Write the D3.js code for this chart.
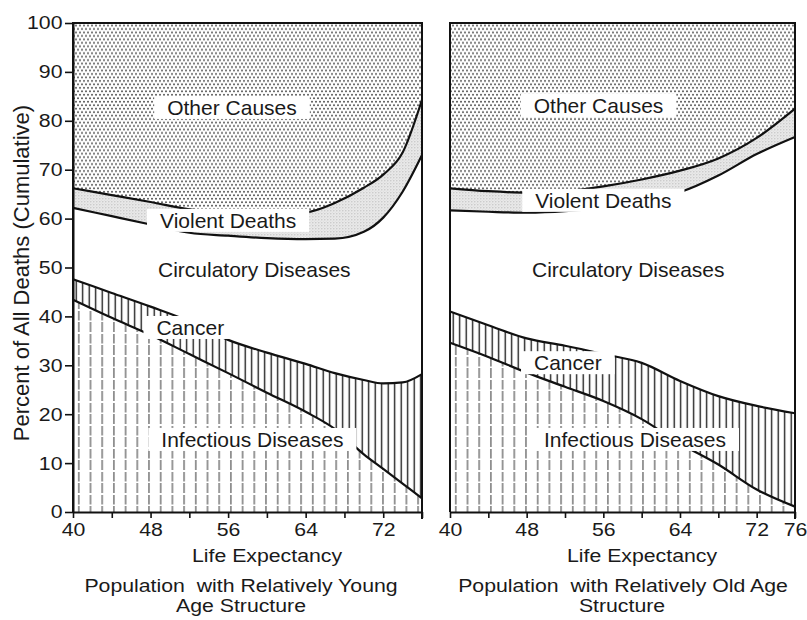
<!DOCTYPE html>
<html><head><meta charset="utf-8">
<script src="https://cdn.jsdelivr.net/npm/d3@7"></script>
<style>
html,body{margin:0;padding:0;background:#fff;}
text{font-family:"Liberation Sans",Arial,Helvetica,sans-serif;fill:#1a1a1a;}
</style></head>
<body>
<svg id="chart" width="807" height="620"></svg>
<script>
// ---------- DATA ----------
const yTicks = [0,10,20,30,40,50,60,70,80,90,100];
const xTicks = [40,44,48,52,56,60,64,68,72,76];
const youngXLabels = [40,48,56,64,72];
const oldXLabels = [40,48,56,64,72,76];

// Population with relatively young age structure (cumulative boundaries, %)
const youngYears       = [40,  44,  48,  52,  56,  60,  64,  67,  70,  72,  74,  76];
const youngInfectious  = [43.4,39.7,36.2,32.3,28.4,24.4,20.5,17.0,11.8,8.8, 5.8, 2.8];
const youngCancer      = [47.6,44.8,42.0,39.0,35.2,32.6,30.3,28.4,27.0,26.3,26.5,28.2];
const youngCirculatory = [62.2,60.5,58.8,57.1,56.5,56.0,55.8,55.9,57.3,60.2,65.5,73.0];
const youngViolent     = [66.2,64.8,63.4,61.9,61.2,61.0,61.3,63.2,66.3,69.0,73.5,84.3];

// Population with relatively old age structure
const oldYears       = [40,  44,  48,  52,  56,  60,  64,  68,  72,  76];
const oldInfectious  = [34.6,31.7,28.5,25.6,22.7,19.0,14.0,9.7, 4.6, 1.1];
const oldCancer      = [41.0,38.2,35.5,34.0,32.3,30.5,26.8,23.7,21.7,20.2];
const oldCirculatory = [61.7,61.4,61.2,61.5,62.3,63.7,65.4,68.8,73.2,76.7];
const oldViolent     = [66.2,65.6,65.3,65.6,66.6,68.0,69.8,72.3,76.5,82.5];

const categoryNames = ["Other Causes","Violent Deaths","Circulatory Diseases","Cancer","Infectious Diseases"];
// label anchors in data units [year, percent]
const youngLabelAt = [[56.4,81.2],[56.0,58.1],[58.7,48.1],[52.1,36.2],[58.5,13.3]];
const oldLabelAt   = [[55.5,81.6],[56.0,62.2],[58.6,48.1],[52.3,29.0],[59.3,13.3]];

const yTitle = "Percent of All Deaths (Cumulative)";
const xTitle = "Life Expectancy";
const youngSubtitle = ["Population  with Relatively Young","Age Structure"];
const oldSubtitle = ["Population  with Relatively Old Age","Structure"];

// ---------- DRAW ----------
const SX = 1.15;      // horizontal stretch of the scanned lettering
const FS = 18.5;
const svg = d3.select("#chart");
const defs = svg.append("defs");
const y = d3.scaleLinear().domain([0,100]).range([512,23]);

const panels = [
  {id:"young", range:[73,422], years:youngYears, inf:youngInfectious, can:youngCancer, cir:youngCirculatory, vio:youngViolent,
   labels:youngLabelAt, xLabels:youngXLabels, sub:youngSubtitle, titleX:267, subX:[241,241], yAxis:true},
  {id:"old", range:[450,795], years:oldYears, inf:oldInfectious, can:oldCancer, cir:oldCirculatory, vio:oldViolent,
   labels:oldLabelAt, xLabels:oldXLabels, sub:oldSubtitle, titleX:642, subX:[623,622], yAxis:false}
];

function stretchedText(sel, x, yy, str){
  return sel.append("text").attr("transform", `translate(${x},${yy}) scale(${SX},1)`)
    .attr("text-anchor","middle").attr("font-size",FS).style("white-space","pre").text(str);
}

function makePatterns(id, x0){
  const p1 = defs.append("pattern").attr("id","dots-"+id).attr("patternUnits","userSpaceOnUse")
    .attr("width",4).attr("height",6.93).attr("patternTransform",`translate(${x0},0)`);
  p1.append("rect").attr("width",4).attr("height",6.93).attr("fill","#fff");
  p1.append("circle").attr("cx",1).attr("cy",1.2).attr("r",1.0).attr("fill","#555");
  p1.append("circle").attr("cx",3).attr("cy",4.66).attr("r",1.0).attr("fill","#555");
  const p2 = defs.append("pattern").attr("id","light-"+id).attr("patternUnits","userSpaceOnUse")
    .attr("width",3).attr("height",3);
  p2.append("rect").attr("width",3).attr("height",3).attr("fill","#e9e9e9");
  p2.append("circle").attr("cx",0.8).attr("cy",0.8).attr("r",0.7).attr("fill","#c2c2c2");
  p2.append("circle").attr("cx",2.3).attr("cy",2.2).attr("r",0.45).attr("fill","#d4d4d4");
  const p3 = defs.append("pattern").attr("id","can-"+id).attr("patternUnits","userSpaceOnUse")
    .attr("width",6.5).attr("height",10).attr("patternTransform",`translate(${x0},0)`);
  p3.append("rect").attr("width",6.5).attr("height",10).attr("fill","#fff");
  p3.append("line").attr("x1",3.2).attr("x2",3.2).attr("y1",0).attr("y2",10)
    .attr("stroke","#111").attr("stroke-width",1.3);
  const p4 = defs.append("pattern").attr("id","inf-"+id).attr("patternUnits","userSpaceOnUse")
    .attr("width",11.7).attr("height",23).attr("patternTransform",`translate(${x0},0)`);
  p4.append("rect").attr("width",11.7).attr("height",23).attr("fill","#fff");
  p4.append("line").attr("x1",5.8).attr("x2",5.8).attr("y1",0).attr("y2",10)
    .attr("stroke","#555").attr("stroke-width",1.2);
  p4.append("line").attr("x1",5.8).attr("x2",5.8).attr("y1",12).attr("y2",21.5)
    .attr("stroke","#555").attr("stroke-width",1.2);
}

panels.forEach(P => {
  const x = d3.scaleLinear().domain([40,76]).range(P.range);
  makePatterns(P.id, P.range[0]);
  const g = svg.append("g");
  const idx = d3.range(P.years.length);
  const area = (lo, hi) => d3.area().curve(d3.curveMonotoneX)
      .x(i => x(P.years[i])).y0(i => y(lo(i))).y1(i => y(hi(i)))(idx);
  const line = (v) => d3.line().curve(d3.curveMonotoneX)
      .x(i => x(P.years[i])).y(i => y(v[i]))(idx);

  g.append("path").attr("d", area(i=>P.vio[i], i=>100)).attr("fill",`url(#dots-${P.id})`);
  g.append("path").attr("d", area(i=>P.cir[i], i=>P.vio[i])).attr("fill",`url(#light-${P.id})`);
  g.append("path").attr("d", area(i=>P.can[i], i=>P.cir[i])).attr("fill","#fff");
  g.append("path").attr("d", area(i=>P.inf[i], i=>P.can[i])).attr("fill",`url(#can-${P.id})`);
  g.append("path").attr("d", area(i=>0, i=>P.inf[i])).attr("fill",`url(#inf-${P.id})`);

  [P.inf, P.can, P.cir, P.vio].forEach(v => {
    g.append("path").attr("d", line(v)).attr("fill","none")
      .attr("stroke","#111").attr("stroke-width",2.2).attr("stroke-linejoin","round");
  });

  categoryNames.forEach((name, k) => {
    const [lx, ly] = P.labels[k];
    const lg = g.append("g");
    const t = lg.append("text").attr("x", x(lx)).attr("y", y(ly))
      .attr("text-anchor","middle").attr("font-size",21).text(name);
    if (k !== 2) {
      const bb = t.node().getBBox();
      lg.insert("rect","text").attr("x", bb.x - 13).attr("width", bb.width + 26)
        .attr("y", y(ly) - 19).attr("height", 23).attr("fill","#fff");
    }
  });

  const [x0, x1] = P.range;
  g.append("path").attr("d", `M${x0},${y(0)}V${y(100)}H${x1}V${y(0)+7}`)
    .attr("fill","none").attr("stroke","#111").attr("stroke-width",2);

  const ax = d3.axisBottom(x).tickValues(xTicks).tickSize(6).tickPadding(5).tickSizeOuter(0)
    .tickFormat(d => P.xLabels.includes(d) ? d : "");
  const axg = svg.append("g").attr("transform", `translate(0,${y(0)})`).call(ax);
  axg.select(".domain").attr("stroke","#111").attr("stroke-width",2);
  axg.selectAll(".tick line").attr("stroke","#111").attr("stroke-width",1.6);
  axg.selectAll(".tick text").attr("font-size",FS).attr("fill","#1a1a1a")
    .attr("font-family","Liberation Sans, Arial, sans-serif")
    .attr("transform",`scale(${SX},1)`);

  if (P.yAxis) {
    const ay = d3.axisLeft(y).tickValues(yTicks).tickSize(8).tickPadding(2).tickSizeOuter(0);
    const ayg = svg.append("g").attr("transform", `translate(${x0},0)`).call(ay);
    ayg.select(".domain").attr("stroke","#111").attr("stroke-width",2);
    ayg.selectAll(".tick line").attr("stroke","#111").attr("stroke-width",1.6);
    ayg.selectAll(".tick text").attr("font-size",FS).attr("fill","#1a1a1a")
      .attr("font-family","Liberation Sans, Arial, sans-serif")
      .attr("x", -10.5/SX).attr("transform",`scale(${SX},1)`);
  }

  stretchedText(svg, P.titleX, 562, xTitle);
  P.sub.forEach((s, j) => stretchedText(svg, P.subX[j], 592 + j*20, s));
});

svg.append("text").attr("transform", `translate(29,273) rotate(-90)`).attr("text-anchor","middle")
  .attr("font-size",22).text(yTitle);
</script>
</body></html>
